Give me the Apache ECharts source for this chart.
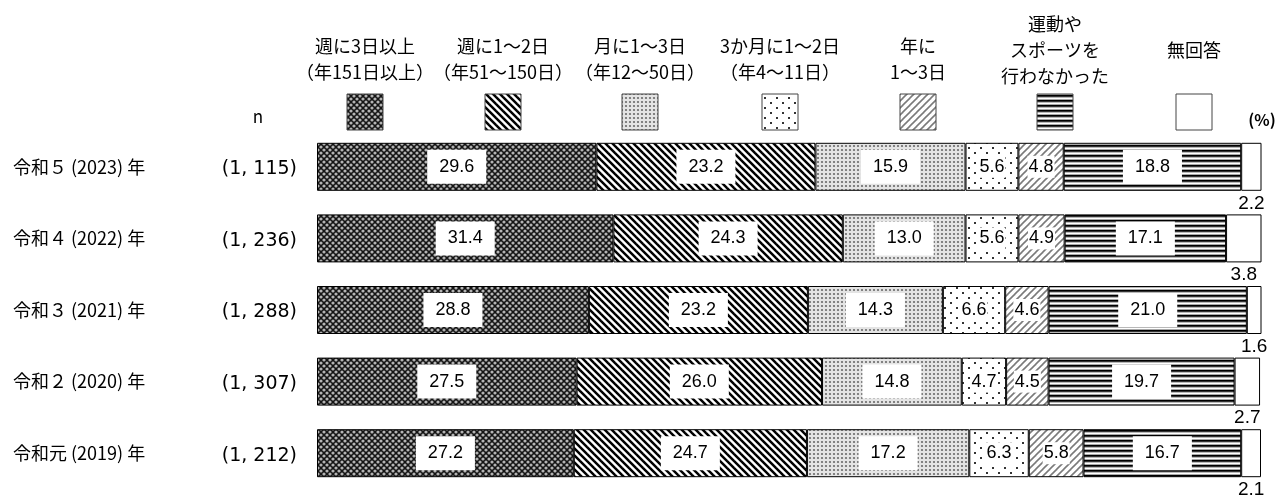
<!DOCTYPE html>
<html lang="ja">
<head>
<meta charset="utf-8">
<title>運動やスポーツを行った日数</title>
<script src="https://cdn.jsdelivr.net/npm/echarts@6/dist/echarts.min.js"></script>
<style>
  html, body { margin: 0; padding: 0; background: #fff; }
  #chart { width: 1284px; height: 497px; }
</style>
</head>
<body>
<div id="chart"></div>
<script>
// Survey years (top to bottom) and sample sizes
const categories = ['令和５ (2023) 年', '令和４ (2022) 年', '令和３ (2021) 年', '令和２ (2020) 年', '令和元 (2019) 年'];
const sampleSizes = ['(1, 115)', '(1, 236)', '(1, 288)', '(1, 307)', '(1, 212)'];

// Response categories (legend text)
const seriesNames = [
  '週に3日以上\n（年151日以上）',
  '週に1〜2日\n（年51〜150日）',
  '月に1〜3日\n（年12〜50日）',
  '3か月に1〜2日\n（年4〜11日）',
  '年に\n1〜3日',
  '運動や\nスポーツを\n行わなかった',
  '無回答'
];

// Shares in percent, one array per response category
const weekly3Plus   = [29.6, 31.4, 28.8, 27.5, 27.2];
const weekly1to2    = [23.2, 24.3, 23.2, 26.0, 24.7];
const monthly1to3   = [15.9, 13.0, 14.3, 14.8, 17.2];
const quarterly1to2 = [5.6, 5.6, 6.6, 4.7, 6.3];
const yearly1to3    = [4.8, 4.9, 4.6, 4.5, 5.8];
const noExercise    = [18.8, 17.1, 21.0, 19.7, 16.7];
const noAnswer      = [2.2, 3.8, 1.6, 2.7, 2.1];

const seriesValues = [weekly3Plus, weekly1to2, monthly1to3, quarterly1to2, yearly1to3, noExercise, noAnswer];

// ---- fill patterns -------------------------------------------------------
function tile(w, h, paint) {
  const c = document.createElement('canvas');
  c.width = w; c.height = h;
  paint(c.getContext('2d'), w, h);
  return c;
}
function dot(g, x, y, r) { g.beginPath(); g.arc(x, y, r, 0, Math.PI * 2); g.fill(); }

const patLattice = tile(6, 6, (g, w, h) => {
  g.fillStyle = '#141414'; g.fillRect(0, 0, w, h);
  g.fillStyle = '#b4b4b4';
  [[0, 0], [6, 0], [0, 6], [6, 6], [3, 3]].forEach(([x, y]) => dot(g, x, y, 1.6));
});
const patBackslash = tile(7, 7, (g, w, h) => {
  g.fillStyle = '#fff'; g.fillRect(0, 0, w, h);
  g.strokeStyle = '#000'; g.lineWidth = 2.5;
  for (const o of [-7, 0, 7]) { g.beginPath(); g.moveTo(o - 1, -1); g.lineTo(o + 8, 8); g.stroke(); }
});
const patFineDots = tile(4, 4, (g, w, h) => {
  g.fillStyle = '#e4e4e4'; g.fillRect(0, 0, w, h);
  g.fillStyle = '#6a6a6a'; dot(g, 2, 2, 1.1);
});
const patSparseDots = tile(12, 10, (g, w, h) => {
  g.fillStyle = '#fff'; g.fillRect(0, 0, w, h);
  g.fillStyle = '#333';
  g.fillRect(2, 2, 2, 2); g.fillRect(8, 7, 2, 2);
});
const patHatch = tile(7, 7, (g, w, h) => {
  g.fillStyle = '#fff'; g.fillRect(0, 0, w, h);
  g.strokeStyle = '#7a7a7a'; g.lineWidth = 1.6;
  for (const o of [-7, 0, 7]) { g.beginPath(); g.moveTo(o - 1, 8); g.lineTo(o + 8, -1); g.stroke(); }
});
const patHStripes = tile(4, 5, (g, w) => {
  ['#000', '#333', '#b8b8b8', '#fff', '#a8a8a8'].forEach((c, y) => { g.fillStyle = c; g.fillRect(0, y, w, 1); });
});
const patWhite = tile(2, 2, (g, w, h) => { g.fillStyle = '#fff'; g.fillRect(0, 0, w, h); });

const patterns = [patLattice, patBackslash, patFineDots, patSparseDots, patHatch, patHStripes, patWhite];
const fillOf = (i) => ({ image: patterns[i], repeat: 'repeat' });

// ---- labels --------------------------------------------------------------
const numFont = { fontFamily: '"Liberation Sans", Arial, sans-serif', fontSize: 18, color: '#000' };
const fmt = (p) => p.value.toFixed(1);
function labelFor(i) {
  if (i === 6) {
    return Object.assign({ show: true, position: 'bottom', distance: 3, formatter: fmt }, numFont, { fontSize: 19 });
  }
  const tight = (i === 3 || i === 4);
  return Object.assign({
    show: true, position: 'inside', formatter: fmt,
    backgroundColor: '#fff',
    padding: tight ? [2, 1] : [8, 12]
  }, numFont);
}

const series = seriesValues.map((vals, i) => ({
  name: seriesNames[i],
  type: 'bar',
  stack: 'total',
  barWidth: 48,
  data: vals,
  itemStyle: { color: fillOf(i), borderColor: '#000', borderWidth: 1 },
  label: labelFor(i),
  emphasis: { disabled: true }
}));

// ---- legend drawn above the bars ----------------------------------------
const jpFont = '"Noto Sans CJK JP", "Noto Sans", sans-serif';
const legendX = [365, 503, 640, 780, 918, 1055, 1194];
const legendTextY = [59, 59, 59, 59, 59, 50, 50];
const legendGraphics = [];
seriesNames.forEach((name, i) => {
  legendGraphics.push({
    type: 'text', x: legendX[i], y: legendTextY[i], silent: true,
    style: { text: name, fill: '#000', font: '18px ' + jpFont, lineHeight: 26, align: 'center', verticalAlign: 'middle' }
  });
  legendGraphics.push({
    type: 'rect', silent: true,
    shape: { x: legendX[i] - 18, y: 94, width: 36, height: 36 },
    style: { fill: fillOf(i), stroke: '#444', lineWidth: 1 }
  });
});
legendGraphics.push({
  type: 'text', x: 258, y: 117, silent: true,
  style: { text: 'n', fill: '#000', font: '17px ' + jpFont, align: 'center', verticalAlign: 'middle' }
});
legendGraphics.push({
  type: 'text', x: 1262, y: 120, silent: true,
  style: { text: '(%)', fill: '#000', font: 'bold 16px ' + jpFont, align: 'center', verticalAlign: 'middle' }
});

const chart = echarts.init(document.getElementById('chart'), null, { renderer: 'canvas' });
chart.setOption({
  animation: false,
  backgroundColor: '#fff',
  grid: { left: 317, right: 23, top: 131, bottom: 8, containLabel: false, outerBoundsMode: 'none' },
  xAxis: { type: 'value', min: 0, max: 100, show: false },
  yAxis: {
    type: 'category',
    inverse: true,
    data: categories,
    axisLine: { show: false },
    axisTick: { show: false },
    splitLine: { show: false },
    axisLabel: {
      margin: 20,
      formatter: (value, idx) => `{a|${value}}{b|${sampleSizes[idx]}}`,
      rich: {
        a: { width: 200, align: 'left', verticalAlign: 'middle', lineHeight: 26, fontSize: 18, fontFamily: jpFont, color: '#000' },
        b: { width: 84, align: 'right', verticalAlign: 'middle', lineHeight: 26, padding: [5, 0, 0, 0], fontSize: 19, fontFamily: '"DejaVu Sans", sans-serif', color: '#000' }
      }
    }
  },
  graphic: legendGraphics,
  series: series
});
</script>
</body>
</html>
